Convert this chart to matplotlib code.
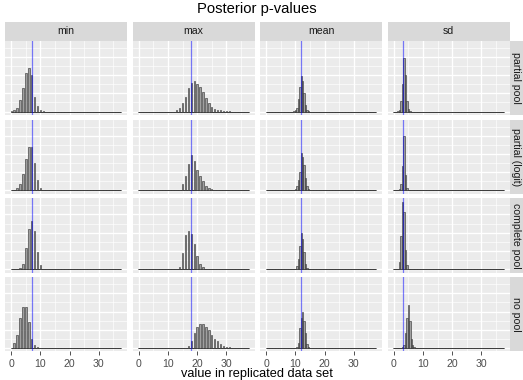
import numpy as np
import matplotlib
matplotlib.use("Agg")
import matplotlib.pyplot as plt
from matplotlib.ticker import MultipleLocator, FixedLocator

plt.rcParams['font.family'] = ['Liberation Sans', 'DejaVu Sans']

# ---------------- data ----------------
models = ["partial pool", "partial (logit)", "complete pool", "no pool"]
stats = ["min", "max", "mean", "sd"]
observed = [7, 18, 11.94, 3.13]          # observed statistic (blue line) per stat
binwidth = 0.5
bin_lo, bin_hi = -0.25, 37.75            # histogram range shared by all panels

# partial pool
pp_min_x = [0, 1, 2, 3, 4, 5, 6, 7, 8, 9, 10, 11]
pp_min_n = [7, 15, 44, 126, 259, 422, 474, 400, 155, 63, 15, 4]
pp_max_x = [13, 14, 15, 16, 17, 18, 19, 20, 21, 22, 23, 24, 25, 26, 27, 28, 29, 30, 31]
pp_max_n = [15, 37, 89, 155, 259, 311, 333, 303, 266, 215, 148, 96, 52, 33, 18, 15, 7, 4, 2]
pp_mean_x = [9.5, 10, 10.5, 11, 11.5, 12, 12.5, 13, 13.5, 14, 14.5]
pp_mean_n = [4, 15, 44, 133, 266, 392, 333, 200, 74, 22, 6]
pp_sd_x = [1.5, 2.0, 2.5, 3.0, 3.5, 4.0, 4.5, 5.0, 5.5]
pp_sd_n = [4, 22, 118, 303, 592, 400, 118, 26, 7]

# partial (logit)
pl_min_x = [1, 2, 3, 4, 5, 6, 7, 8, 9, 10, 11]
pl_min_n = [7, 22, 67, 178, 348, 481, 481, 303, 118, 30, 7]
pl_max_x = [14, 15, 16, 17, 18, 19, 20, 21, 22, 23, 24, 25, 26, 27]
pl_max_n = [7, 67, 155, 289, 385, 318, 222, 163, 104, 52, 30, 15, 7, 4]
pl_mean_x = [10, 10.5, 11, 11.5, 12, 12.5, 13, 13.5, 14, 14.5]
pl_mean_n = [11, 44, 111, 207, 407, 370, 281, 133, 44, 11]
pl_sd_x = [2.0, 2.5, 3.0, 3.5, 4.0, 4.5, 5.0]
pl_sd_n = [15, 74, 266, 599, 170, 30, 7]

# complete pool
cp_min_x = [3, 4, 5, 6, 7, 8, 9, 10, 11]
cp_min_n = [15, 52, 229, 437, 525, 414, 185, 44, 7]
cp_max_x = [14, 15, 16, 17, 18, 19, 20, 21, 22, 23]
cp_max_n = [22, 178, 370, 422, 385, 274, 141, 59, 22, 7]
cp_mean_x = [10, 10.5, 11, 11.5, 12, 12.5, 13, 13.5, 14]
cp_mean_n = [7, 37, 111, 259, 392, 333, 185, 59, 15]
cp_sd_x = [1.5, 2.0, 2.5, 3.0, 3.5, 4.0, 4.5, 5.0]
cp_sd_n = [7, 74, 363, 740, 622, 215, 44, 7]

# no pool
np_min_x = [0, 1, 2, 3, 4, 5, 6, 7, 8, 9]
np_min_n = [4, 52, 148, 333, 444, 451, 281, 96, 30, 7]
np_max_x = [16, 17, 18, 19, 20, 21, 22, 23, 24, 25, 26, 27, 28, 29, 30, 31, 32, 33]
np_max_n = [4, 22, 74, 170, 229, 266, 266, 229, 192, 148, 104, 74, 44, 26, 15, 7, 4, 2]
np_mean_x = [10.5, 11, 11.5, 12, 12.5, 13, 13.5, 14, 14.5]
np_mean_n = [15, 59, 222, 333, 392, 296, 163, 44, 7]
np_sd_x = [3.0, 3.5, 4.0, 4.5, 5.0, 5.5, 6.0, 6.5, 7.0]
np_sd_n = [7, 37, 163, 333, 474, 296, 104, 30, 7]

panels = [
    [(pp_min_x, pp_min_n), (pp_max_x, pp_max_n), (pp_mean_x, pp_mean_n), (pp_sd_x, pp_sd_n)],
    [(pl_min_x, pl_min_n), (pl_max_x, pl_max_n), (pl_mean_x, pl_mean_n), (pl_sd_x, pl_sd_n)],
    [(cp_min_x, cp_min_n), (cp_max_x, cp_max_n), (cp_mean_x, cp_mean_n), (cp_sd_x, cp_sd_n)],
    [(np_min_x, np_min_n), (np_max_x, np_max_n), (np_mean_x, np_mean_n), (np_sd_x, np_sd_n)],
]

x_ticks = [0, 10, 20, 30]

# ---------------- layout (pixels) ----------------
W, H = 523, 380
fig = plt.figure(figsize=(W / 100, H / 100), dpi=100)
fig.patch.set_facecolor("white")

left = 5.0
panel_w = 122.0
col_gap = 5.5
top_strip_y = 22.0
strip_h = 18.7
row_top0 = top_strip_y + strip_h
panel_h = 74.3
row_gap = 4.5
right_strip_w = 13.0

PANEL_BG = "#EBEBEB"
STRIP_BG = "#D9D9D9"

centers = np.arange(bin_lo + binwidth / 2, bin_hi, binwidth)
ymax = max(max(n) for row in panels for (_, n) in row)
xlim = (bin_lo - 0.05 * (bin_hi - bin_lo), bin_hi + 0.05 * (bin_hi - bin_lo))
ylim = (-0.05 * ymax, 1.05 * ymax)


def ax_at(x, y, w, h):
    return fig.add_axes([x / W, 1 - (y + h) / H, w / W, h / H])


for r, model in enumerate(models):
    y0 = row_top0 + r * (panel_h + row_gap)
    for c, stat in enumerate(stats):
        x0 = left + c * (panel_w + col_gap)
        ax = ax_at(x0, y0, panel_w, panel_h)
        ax.set_facecolor(PANEL_BG)
        for s in ax.spines.values():
            s.set_visible(False)
        ax.set_xlim(*xlim)
        ax.set_ylim(*ylim)
        ax.xaxis.set_major_locator(FixedLocator(x_ticks))
        ax.xaxis.set_minor_locator(FixedLocator([5, 15, 25, 35]))
        ax.yaxis.set_major_locator(MultipleLocator(200))
        ax.yaxis.set_minor_locator(MultipleLocator(100))
        ax.grid(which="major", color="white", linewidth=0.95)
        ax.grid(which="minor", color="white", linewidth=0.45)
        ax.set_axisbelow(True)
        ax.tick_params(axis="y", which="both", left=False, labelleft=False)
        ax.tick_params(axis="x", which="minor", bottom=False)
        if r == len(models) - 1:
            ax.tick_params(axis="x", which="major", length=2.6, width=0.6,
                           color="#333333", labelsize=7.6, labelcolor="#4D4D4D", pad=2.6)
        else:
            ax.tick_params(axis="x", which="major", bottom=False, labelbottom=False)

        vx, vn = panels[r][c]
        counts = np.zeros_like(centers)
        for v, n in zip(vx, vn):
            counts[int(round((v - centers[0]) / binwidth))] = n
        ax.hlines(0, bin_lo, bin_hi, color="#333333", linewidth=0.6, zorder=2)
        ax.bar(centers, counts, width=binwidth, color="#a0a0a0",
               edgecolor="#2b2b2b", linewidth=0.4, zorder=3)
        ax.axvline(observed[c], color=(0.0, 0.0, 1.0, 0.5), linewidth=0.9, zorder=4)

        if r == 0:
            sax = ax_at(x0, top_strip_y, panel_w, strip_h)
            sax.set_facecolor(STRIP_BG)
            sax.set_xticks([]); sax.set_yticks([])
            for s in sax.spines.values():
                s.set_visible(False)
            sax.text(0.5, 0.5, stat, ha="center", va="center", fontsize=7.6,
                     color="#1A1A1A", transform=sax.transAxes)
    # right strip
    x_r = left + 4 * panel_w + 3 * col_gap
    rax = ax_at(x_r, y0, right_strip_w, panel_h)
    rax.set_facecolor(STRIP_BG)
    rax.set_xticks([]); rax.set_yticks([])
    for s in rax.spines.values():
        s.set_visible(False)
    rax.text(0.5, 0.5, model, ha="center", va="center", rotation=-90, fontsize=7.6,
             color="#1A1A1A", transform=rax.transAxes)

grid_center_x = (left + (left + 4 * panel_w + 3 * col_gap)) / 2
fig.text(grid_center_x / W, 1 - 9.5 / H, "Posterior p-values", ha="center", va="center",
         fontsize=10.6, color="black")
fig.text(grid_center_x / W, 1 - 373.5 / H, "value in replicated data set", ha="center",
         va="center", fontsize=9.2, color="black")

fig.savefig("out.png", dpi=100, facecolor="white")
